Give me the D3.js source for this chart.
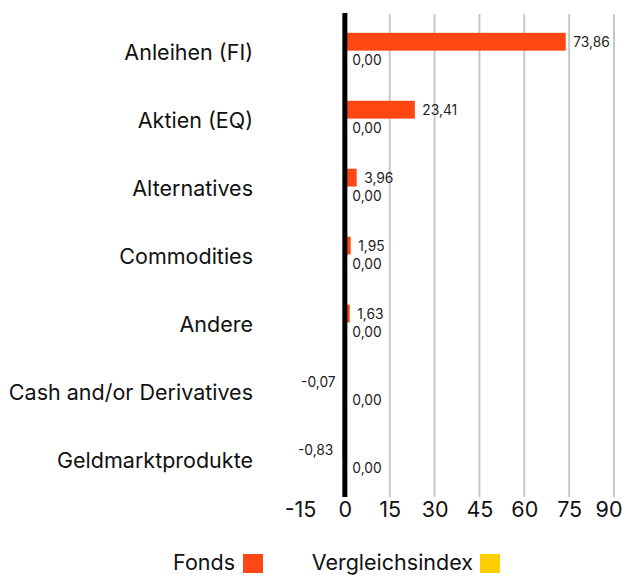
<!DOCTYPE html>
<html><head><meta charset="utf-8">
<script src="https://cdn.jsdelivr.net/npm/d3@7"></script>
<style>body{margin:0;background:#fff}svg{display:block}</style>
</head><body>
<script>
const categories = ["Anleihen (FI)","Aktien (EQ)","Alternatives","Commodities","Andere","Cash and/or Derivatives","Geldmarktprodukte"];
const fonds = [73.86,23.41,3.96,1.95,1.63,-0.07,-0.83];
const index = [0,0,0,0,0,0,0];
const ticks = [-15,0,15,30,45,60,75,90];
const seriesNames = ["Fonds","Vergleichsindex"];
const colors = ["#FF4713","#FFCE00"];

const W=626,H=576;
const font = "Inter, 'Open Sans', sans-serif";
const svg = d3.select("body").append("svg").attr("width",W).attr("height",H);
const fmt = v => v.toFixed(2).replace(".",",");

const x = d3.scaleLinear().domain([-15,90]).range([300,614]);
const y = d3.scaleBand().domain(categories).range([14,495]).paddingInner(0.476).paddingOuter(0.277);
const ySub = d3.scaleBand().domain([0,1]).range([0,y.bandwidth()]);

// gridlines
svg.append("g").selectAll("line").data(ticks.filter(t=>t>0)).join("line")
  .attr("x1",d=>x(d)).attr("x2",d=>x(d)).attr("y1",14).attr("y2",497)
  .attr("stroke","#c8c8c8").attr("stroke-width",2);

// bars
const g = svg.append("g");
categories.forEach((c,i)=>{
  [fonds[i],index[i]].forEach((v,s)=>{
    const yy = y(c)+ySub(s);
    g.append("rect").attr("x",x(Math.min(0,v))).attr("width",Math.abs(x(v)-x(0)))
      .attr("y",yy).attr("height",ySub.bandwidth()).attr("fill",colors[s]);
    const t = g.append("text").attr("y",yy+ySub.bandwidth()/2).attr("dy","0.38em")
      .attr("font-family",font).attr("font-size",13.8).attr("fill","#222").text(fmt(v));
    if(v<0) t.attr("x",x(v)-9).attr("text-anchor","end");
    else t.attr("x",x(v)+7.5).attr("text-anchor","start");
  });
});

// zero line
svg.append("line").attr("x1",x(0)).attr("x2",x(0)).attr("y1",13).attr("y2",497)
  .attr("stroke","#000").attr("stroke-width",5);

// category labels
svg.append("g").selectAll("text").data(categories).join("text")
  .attr("x",253).attr("y",d=>y(d)+y.bandwidth()/2).attr("dy","0.45em")
  .attr("text-anchor","end").attr("font-family",font).attr("font-size",21.5).attr("fill","#111").text(d=>d);

// x axis labels
const ax = d3.axisBottom(x).tickValues(ticks).tickSize(0).tickFormat(d=>d);
const axg = svg.append("g").attr("transform","translate(0,499)").call(ax);
axg.select(".domain").remove();
axg.selectAll("text").attr("font-family",font).attr("font-size",21.5).attr("fill","#111").attr("dy","0.71em");
// keep the last label inside the canvas
axg.selectAll(".tick").each(function(d){
  const t = d3.select(this).select("text");
  const bb = t.node().getBBox();
  const right = x(d) + bb.x + bb.width;
  if (right > W - 4) t.attr("x", (W - 4) - right);
});

// legend
const leg = [{x:235,sq:243},{x:473,sq:480}];
seriesNames.forEach((n,i)=>{
  svg.append("text").attr("x",leg[i].x).attr("y",570).attr("text-anchor","end")
    .attr("font-family",font).attr("font-size",21.5).attr("fill","#111").text(n);
  svg.append("rect").attr("x",leg[i].sq).attr("y",554).attr("width",20).attr("height",19).attr("fill",colors[i]);
});
</script>
</body></html>
